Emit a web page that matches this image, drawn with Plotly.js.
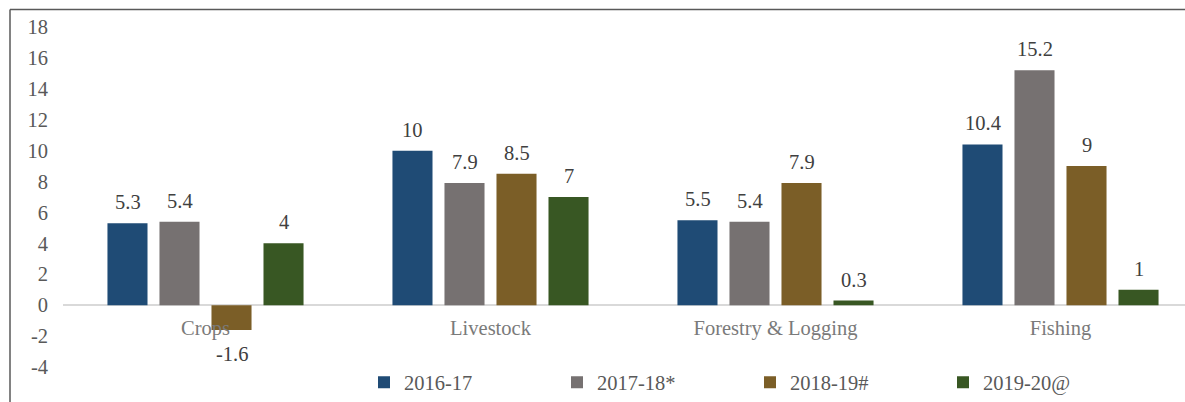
<!DOCTYPE html>
<html>
<head>
<meta charset="utf-8">
<script src="https://cdn.plot.ly/plotly-3.0.1.min.js"></script>
<style>
html,body{margin:0;padding:0;overflow:hidden;background:#fff;}
#chart{width:1240px;height:402px;}
</style>
</head>
<body>
<div id="chart"></div>
<script>
const categories = ["Crops", "Livestock", "Forestry & Logging", "Fishing"];
const seriesNames = ["2016-17", "2017-18*", "2018-19#", "2019-20@"];
const v2016 = [5.3, 10, 5.5, 10.4];
const v2017 = [5.4, 7.9, 5.4, 15.2];
const v2018 = [-1.6, 8.5, 7.9, 9];
const v2019 = [4, 7, 0.3, 1];
const yTicks = [-4, -2, 0, 2, 4, 6, 8, 10, 12, 14, 16, 18];

const colors = ["#1F4B75", "#767171", "#7B5E27", "#385723"];
const allValues = [v2016, v2017, v2018, v2019];

const FONT = "Liberation Serif, Times New Roman, serif";
const FS = 20.5;

const traces = allValues.map((vals, i) => ({
  type: "bar",
  name: seriesNames[i],
  x: categories,
  y: vals,
  marker: {color: colors[i]},
  hoverinfo: "x+y+name"
}));

// data labels as annotations, offset to each grouped bar's slot
const slotOffsets = [-78, -26, 26, 78];
const annotations = [];
allValues.forEach((vals, i) => {
  vals.forEach((v, j) => {
    annotations.push({
      x: categories[j], y: v, xref: "x", yref: "y",
      text: String(v), showarrow: false,
      xshift: slotOffsets[i],
      yanchor: v >= 0 ? "bottom" : "top",
      yshift: v >= 0 ? 8 : -11,
      font: {family: FONT, size: FS, color: "#404040"}
    });
  });
});

const layout = {
  width: 1240, height: 402,
  margin: {l: 63, r: 37, t: 27, b: 35, autoexpand: false},
  paper_bgcolor: "#ffffff",
  plot_bgcolor: "#ffffff",
  barmode: "group",
  bargap: 0.27,
  bargroupgap: 0.23,
  showlegend: true,
  legend: {
    orientation: "h",
    x: (364 - 63) / 1140, xanchor: "left",
    y: -0.045, yanchor: "middle",
    font: {family: FONT, size: FS, color: "#595959"},
    entrywidth: 148, entrywidthmode: "pixels",
    itemwidth: 30,
    traceorder: "normal",
    bgcolor: "rgba(0,0,0,0)"
  },
  xaxis: {
    type: "category",
    anchor: "free",
    position: 4 / 22,
    showline: false,
    showgrid: false,
    ticks: "",
    layer: "above traces",
    automargin: false,
    ticklabelstandoff: 8,
    tickfont: {family: FONT, size: FS, color: "#7A7A7A"},
    fixedrange: true
  },
  yaxis: {
    range: [-4, 18],
    tickvals: yTicks,
    ticktext: yTicks.map(String),
    showgrid: false,
    zeroline: true,
    zerolinecolor: "#D9D9D9",
    zerolinewidth: 1.5,
    showline: false,
    ticks: "",
    automargin: false,
    ticklabelstandoff: 14,
    tickfont: {family: FONT, size: FS, color: "#595959"},
    fixedrange: true
  },
  annotations: annotations,
  shapes: [
    {type: "line", xref: "paper", yref: "paper",
     x0: (10 - 63) / 1140, x1: (1240 - 63) / 1140,
     y0: (367 - 9.5) / 340, y1: (367 - 9.5) / 340,
     line: {color: "#595959", width: 1.5}},
    {type: "line", xref: "paper", yref: "paper",
     x0: (10 - 63) / 1140, x1: (10 - 63) / 1140,
     y0: (367 - 9.5) / 340, y1: (367 - 410) / 340,
     line: {color: "#595959", width: 1.5}}
  ]
};

Plotly.newPlot("chart", traces, layout, {displayModeBar: false});
</script>
</body>
</html>
